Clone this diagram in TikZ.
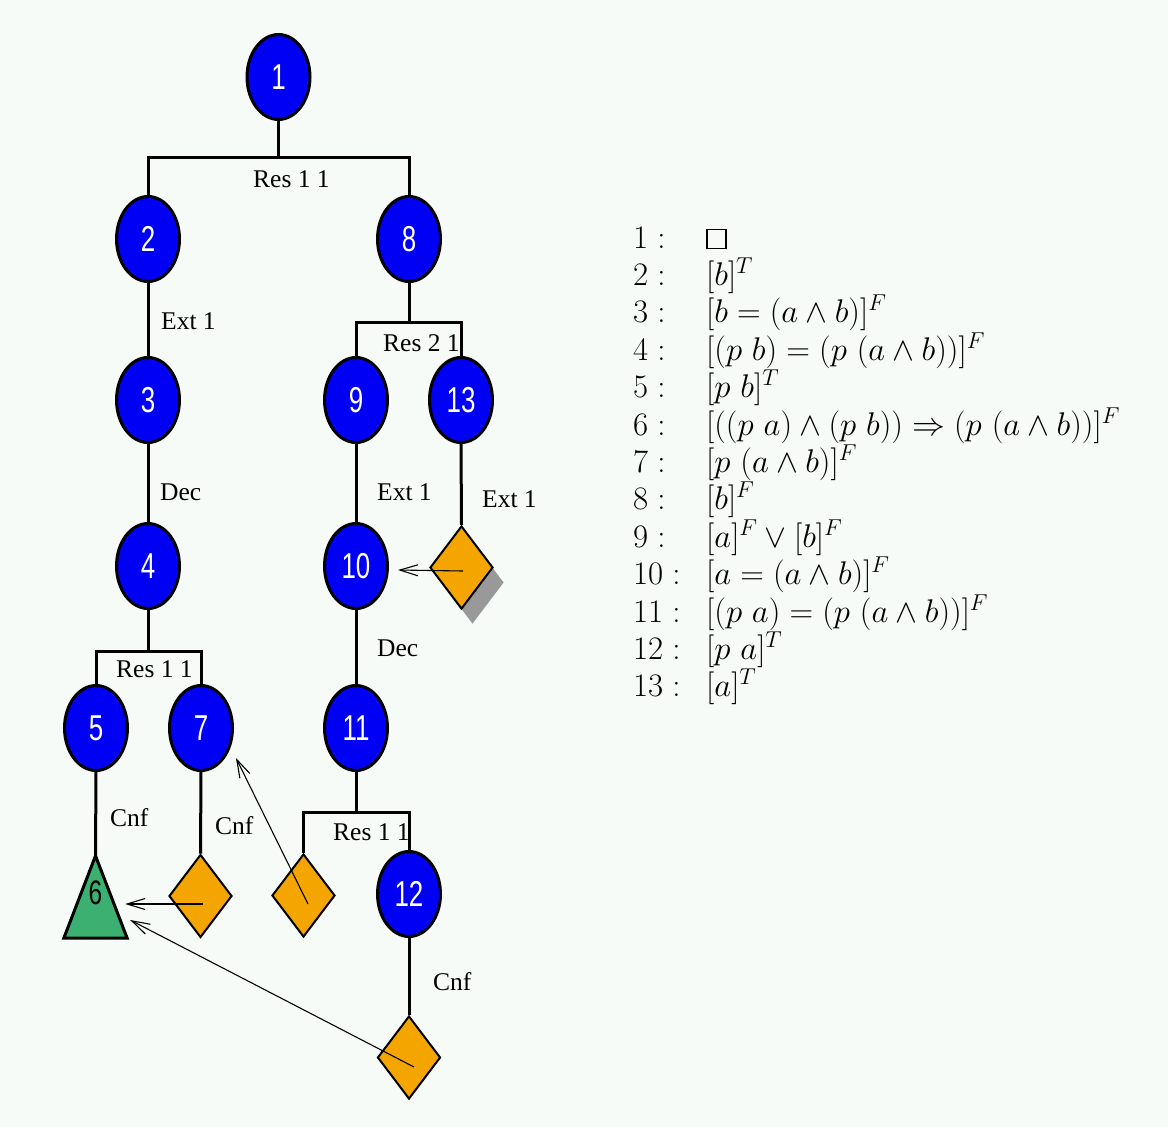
\documentclass[tikz,border=0pt]{standalone}
\usepackage{fix-cm}
\usepackage{fontspec}
\usepackage{graphicx}
\usetikzlibrary{shapes.geometric,arrows.meta,calc,shadows}
\newfontfamily\labelfont{Liberation Serif}
\newfontfamily\digitfont{Liberation Sans}
\definecolor{bg}{RGB}{246,251,248}
\definecolor{nodeblue}{RGB}{0,0,245}
\definecolor{leaforange}{RGB}{245,165,0}
\definecolor{leafgreen}{RGB}{60,176,112}
\definecolor{shadowgray}{RGB}{153,153,153}
% narrow digits for the node numbers
\newcommand\numtxt[1]{\scalebox{0.72}[1]{#1}}
% empty square for the first formula
\newcommand\emptysq{{\setlength\fboxsep{0pt}\setlength\fboxrule{1.3pt}\fbox{\rule{17.8pt}{0pt}\rule{0pt}{17.8pt}}}}
\begin{document}
\begin{tikzpicture}[x=1pt,y=-1pt,
  goal/.style={ellipse, draw=black, line width=3pt, fill=nodeblue,
    minimum width=63pt, minimum height=85pt, inner sep=0pt,
    text=white, font=\fontsize{36}{36}\digitfont},
  closed/.style={diamond, draw=black, line width=2pt, fill=leaforange,
    minimum width=63pt, minimum height=83pt, inner sep=0pt},
  tree/.style={line width=3pt},
  link/.style={line width=1.1pt, -{Straight Barb[length=18pt,width=11pt]}},
  rule/.style={anchor=base west, inner sep=0pt, font=\fontsize{25.5}{25.5}\labelfont},
  row/.style={anchor=base west, inner sep=0pt, font=\fontsize{32.8}{37}\selectfont}]

\fill[bg] (0,0) rectangle (1168,1127);
\useasboundingbox (0,0) rectangle (1168,1127);

% goal nodes
\node[goal] (n1)  at (278.5,77)  {\numtxt{1}};
\node[goal] (n2)  at (148,239)   {\numtxt{2}};
\node[goal] (n8)  at (409,239)   {\numtxt{8}};
\node[goal] (n3)  at (148,400)   {\numtxt{3}};
\node[goal] (n9)  at (356,400)   {\numtxt{9}};
\node[goal] (n13) at (461,400)   {\numtxt{13}};
\node[goal] (n4)  at (148,566)   {\numtxt{4}};
\node[goal] (n10) at (356,566)   {\numtxt{10}};
\node[goal] (n5)  at (96,728)    {\numtxt{5}};
\node[goal] (n7)  at (201,728)   {\numtxt{7}};
\node[goal] (n11) at (356,728)   {\numtxt{11}};
\node[goal] (n12) at (409,894)   {\numtxt{12}};

% closed leaves
\node[closed, copy shadow={shadow xshift=11pt, shadow yshift=-15pt, fill=shadowgray, draw=none}]
  (d13) at (461.5,567.5) {};
\node[closed] (d7)  at (200.5,896)   {};
\node[closed] (d11) at (303.5,895.5) {};
\node[closed] (d12) at (409,1057.5)  {};

% proved leaf 6 (triangle)
\node[inner sep=0pt, minimum width=63pt, minimum height=82pt] (n6) at (95.5,897) {};
\draw[fill=leafgreen, line width=3pt] (n6.south west) -- (n6.south east) -- (n6.north) -- cycle;
\node[inner sep=0pt, text=black, font=\fontsize{34}{34}\digitfont] (n6lab) at ($(n6)+(0,-4)$) {\numtxt{6}};

% tree edges
\draw[tree] (n1.south) -- ++(0,36) -| (n2.north);
\draw[tree] (n1.south) -- ++(0,36) -| (n8.north);
\draw[tree] (n2.south) -- (n3.north);
\draw[tree] (n8.south) -- ++(0,39) -| (n9.north);
\draw[tree] (n8.south) -- ++(0,39) -| (n13.north);
\draw[tree] (n3.south) -- (n4.north);
\draw[tree] (n9.south) -- (n10.north);
\draw[tree] (n13.south) -- (d13.north);
\draw[tree] (n4.south) -- ++(0,41) -| (n5.north);
\draw[tree] (n4.south) -- ++(0,41) -| (n7.north);
\draw[tree] (n10.south) -- (n11.north);
\draw[tree] (n5.south) -- (n6.north);
\draw[tree] (n7.south) -- (d7.north);
\draw[tree] (n11.south) -- ++(0,40) -| (d11.north);
\draw[tree] (n11.south) -- ++(0,40) -| (n12.north);
\draw[tree] (n12.south) -- (d12.north);

% rule labels
\node[rule] (r1)  at (253,187) {Res 1 1};
\node[rule] (r2)  at (161,329) {Ext 1};
\node[rule] (r3)  at (383,351) {Res 2 1};
\node[rule] (r4)  at (160,500) {Dec};
\node[rule] (r5)  at (377,500) {Ext 1};
\node[rule] (r6)  at (482,507) {Ext 1};
\node[rule] (r7)  at (116,677) {Res 1 1};
\node[rule] (r8)  at (377,656) {Dec};
\node[rule] (r9)  at (110,826) {Cnf};
\node[rule] (r10) at (215,834) {Cnf};
\node[rule] (r11) at (333,840) {Res 1 1};
\node[rule] (r12) at (433,990) {Cnf};

% links from closed leaves
\draw[link] ($(d13)+(1.5,3.5)$) -- ($(n10.east)+(9,4)$);
\draw[link] ($(d7)+(2.5,8)$)    -- ($(n6.east)+(-2,7)$);
\draw[link] ($(d11)+(4.5,8.5)$) -- ($(n7.east)+(2,30)$);
\draw[link] ($(d12)+(5,9.5)$)   -- ($(n6.east)+(3,23)$);

% formula table
\node[row] (k1)  at (633,248)   {$1:$};
\node[row] (k2)  at (633,285.4) {$2:$};
\node[row] (k3)  at (633,322.8) {$3:$};
\node[row] (k4)  at (633,360.2) {$4:$};
\node[row] (k5)  at (633,397.6) {$5:$};
\node[row] (k6)  at (633,435)   {$6:$};
\node[row] (k7)  at (633,472.4) {$7:$};
\node[row] (k8)  at (633,509.8) {$8:$};
\node[row] (k9)  at (633,547.2) {$9:$};
\node[row] (k10) at (633,584.6) {$10:$};
\node[row] (k11) at (633,622)   {$11:$};
\node[row] (k12) at (633,659.4) {$12:$};
\node[row] (k13) at (633,696.8) {$13:$};

\node[row] (f1)  at (706,248)   {\emptysq};
\node[row] (f2)  at (706,285.4) {$[b]^T$};
\node[row] (f3)  at (706,322.8) {$[b = (a \wedge b)]^F$};
\node[row] (f4)  at (706,360.2) {$[(p\ b) = (p\ (a \wedge b))]^F$};
\node[row] (f5)  at (706,397.6) {$[p\ b]^T$};
\node[row] (f6)  at (706,435)   {$[((p\ a) \wedge (p\ b)) \Rightarrow (p\ (a \wedge b))]^F$};
\node[row] (f7)  at (706,472.4) {$[p\ (a \wedge b)]^F$};
\node[row] (f8)  at (706,509.8) {$[b]^F$};
\node[row] (f9)  at (706,547.2) {$[a]^F \vee [b]^F$};
\node[row] (f10) at (706,584.6) {$[a = (a \wedge b)]^F$};
\node[row] (f11) at (706,622)   {$[(p\ a) = (p\ (a \wedge b))]^F$};
\node[row] (f12) at (706,659.4) {$[p\ a]^T$};
\node[row] (f13) at (706,696.8) {$[a]^T$};
\end{tikzpicture}
\end{document}
